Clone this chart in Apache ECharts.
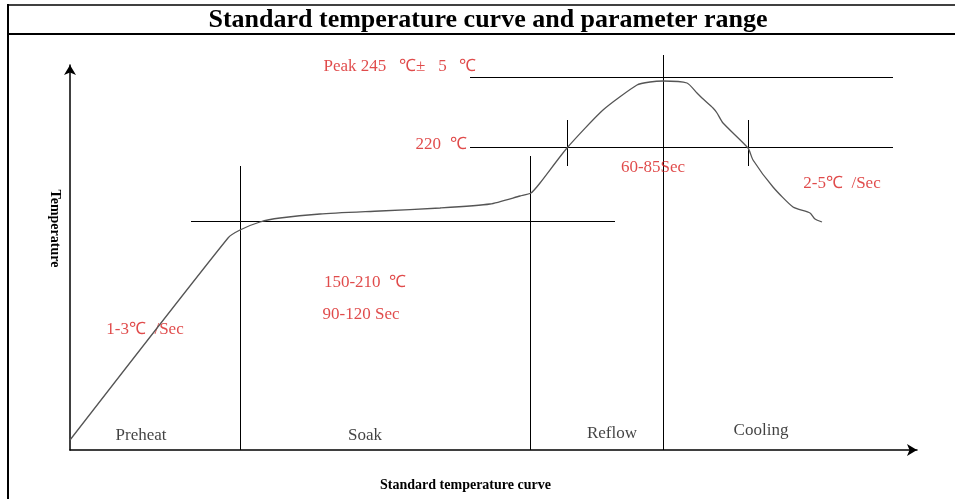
<!DOCTYPE html>
<html>
<head>
<meta charset="utf-8">
<script src="https://cdn.jsdelivr.net/npm/echarts@6/dist/echarts.min.js"></script>
<style>
  html, body { margin: 0; padding: 0; background: #fff; }
  #chart { width: 955px; height: 499px; }
</style>
</head>
<body>
<div id="chart"></div>
<script>
// schematic units: x = time, y = temperature
var curveX = [0, 158, 170, 190, 210, 250, 310, 370, 420, 450, 461, 470, 497, 533, 567, 580, 593, 617, 627, 632, 643, 647, 653, 678, 683, 703, 723, 740, 745, 752];
var curveY = [10, 212, 220, 228, 232, 236, 239, 242, 246, 254, 257, 267, 302, 340, 365, 368, 369, 367, 357, 352, 342, 337, 327, 302, 290, 263, 243, 237, 231, 228];

// guide segments [x1, y1, x2, y2]
var guides = [
  [400, 373, 823, 373],   // peak level
  [400, 303, 823, 303],   // 220 level
  [121, 229, 545, 229],   // soak level
  [170, 0, 170, 284],     // preheat / soak
  [460, 0, 460, 294],     // soak / reflow
  [593, 0, 593, 395],     // reflow / cooling
  [497, 284, 497, 330],   // 220 crossing up
  [678, 284, 678, 330]    // 220 crossing down
];

var redNotes = ["Peak 245   ℃±   5   ℃", "220  ℃", "60-85Sec", "2-5℃  /Sec", "150-210  ℃", "90-120 Sec", "1-3℃  /Sec"];
var redNoteX = [330, 371, 583, 772, 295, 291, 75];
var redNoteY = [383, 305, 282, 266, 167, 135, 120];

var phases = ["Preheat", "Soak", "Reflow", "Cooling"];
var phaseX = [71, 295, 542, 691];
var phaseY = [14, 14, 16, 19];

var chart = echarts.init(document.getElementById("chart"));

var curveData = curveX.map(function (x, i) { return [x, curveY[i]]; });
var guideData = guides.map(function (g) { return { coords: [[g[0], g[1]], [g[2], g[3]]] }; });
var redData = redNotes.map(function (t, i) { return { name: t, value: [redNoteX[i], redNoteY[i]] }; });
var phaseData = phases.map(function (t, i) { return { name: t, value: [phaseX[i], phaseY[i]] }; });

var serif = "Liberation Serif";

var option = {
  animation: false,
  backgroundColor: "#fff",
  graphic: [
    // frame and title row
    { type: "line", shape: { x1: 8, y1: 4, x2: 8, y2: 499 }, style: { stroke: "#000", lineWidth: 2 } },
    { type: "line", shape: { x1: 8, y1: 5, x2: 955, y2: 5 }, style: { stroke: "#000", lineWidth: 1.5 } },
    { type: "line", shape: { x1: 8, y1: 34, x2: 955, y2: 34 }, style: { stroke: "#000", lineWidth: 2 } },
    {
      type: "text", x: 488, y: 20,
      style: {
        text: "Standard temperature curve and parameter range",
        font: "bold 26px " + serif, fill: "#000",
        textAlign: "center", textVerticalAlign: "middle"
      }
    }
  ],
  grid: { left: 70, right: 38, top: 65, bottom: 49 },
  xAxis: {
    type: "value", min: 0, max: 847,
    name: "Standard temperature curve",
    nameLocation: "middle", nameGap: 28,
    nameTextStyle: { fontFamily: serif, fontWeight: "bold", fontSize: 14, color: "#000", padding: [0, 56, 0, 0] },
    axisLine: { show: true, symbol: ["none", "arrow"], symbolSize: [9, 10], lineStyle: { color: "#000", width: 1.5 } },
    axisTick: { show: false }, axisLabel: { show: false }, splitLine: { show: false }
  },
  yAxis: {
    type: "value", min: 0, max: 385,
    name: "Temperature",
    nameLocation: "middle", nameGap: 8, nameRotate: -90,
    nameTextStyle: { fontFamily: serif, fontWeight: "bold", fontSize: 14, color: "#000", padding: [0, 58, 0, 0] },
    axisLine: { show: true, symbol: ["none", "arrow"], symbolSize: [9, 10], lineStyle: { color: "#000", width: 1.5 } },
    axisTick: { show: false }, axisLabel: { show: false }, splitLine: { show: false }
  },
  series: [
    {
      type: "lines", coordinateSystem: "cartesian2d", clip: false,
      lineStyle: { color: "#000", width: 1, opacity: 1 },
      data: guideData
    },
    {
      type: "line", data: curveData, clip: false,
      showSymbol: false, smooth: 0.2,
      lineStyle: { color: "#555", width: 1.3 }
    },
    {
      type: "scatter", data: redData, symbolSize: 0, clip: false,
      label: {
        show: true, position: "inside", formatter: "{b}",
        fontFamily: serif, fontSize: 17, color: "#d81e1e"
      }
    },
    {
      type: "scatter", data: phaseData, symbolSize: 0, clip: false,
      label: {
        show: true, position: "inside", formatter: "{b}",
        fontFamily: serif, fontSize: 17, color: "#111"
      }
    }
  ]
};
chart.setOption(option);
</script>
</body>
</html>
